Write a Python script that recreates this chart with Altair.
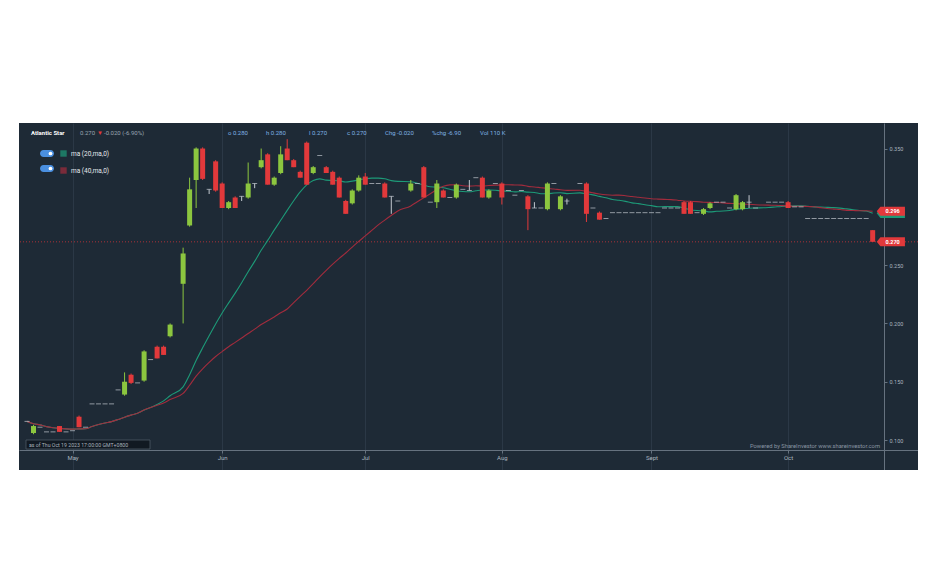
import altair as alt
import pandas as pd
import numpy as np

# ---------------- data ----------------
stock_name = "Atlantic Star"
dates = pd.bdate_range("2023-04-20", "2023-10-19")  # weekday trading calendar (131 days)

opens = [0.116, 0.106, 0.111, 0.107, 0.107, 0.112, 0.107, 0.108, 0.120, 0.111,
         0.131, 0.131, 0.131, 0.131, 0.143, 0.139, 0.156, 0.149, 0.151, 0.169,
         0.180, 0.180, 0.189, None, 0.234, 0.284, 0.323, 0.350, 0.315, 0.339,
         0.320, 0.299, 0.308, 0.309, 0.308, 0.320, 0.334, 0.345, 0.319, 0.329,
         0.350, 0.340, 0.330, 0.355, 0.329, 0.344, 0.334, 0.330, 0.325, 0.305,
         0.303, 0.314, 0.326, 0.320, 0.320, 0.320, 0.309, 0.305, None, 0.314,
         0.320, 0.334, 0.304, 0.304, 0.314, 0.308, 0.308, 0.315, 0.314, 0.325,
         0.325, 0.308, 0.320, 0.320, 0.314, 0.310, 0.314, 0.309, 0.299, 0.299,
         0.298, 0.320, 0.298, 0.305, None, 0.320, 0.320, 0.299, 0.295, 0.290,
         0.295, 0.295, 0.295, 0.295, 0.295, 0.295, 0.295, 0.295, 0.299, 0.299,
         0.299, 0.304, 0.304, 0.295, 0.294, 0.299, 0.304, 0.304, 0.299, 0.298,
         0.298, 0.304, 0.299, None, 0.304, 0.304, 0.304, 0.304, 0.300, 0.300,
         0.290, 0.290, 0.290, 0.290, 0.290, 0.290, 0.290, 0.290, 0.290, 0.290,
         0.280]
highs = [0.116, 0.113, 0.111, 0.107, 0.107, 0.112, 0.107, 0.108, 0.121, 0.111,
         0.131, 0.131, 0.131, 0.131, 0.143, 0.158, 0.157, 0.149, 0.177, 0.169,
         0.181, 0.181, 0.200, None, 0.265, 0.325, 0.351, 0.351, 0.315, 0.340,
         0.321, 0.305, 0.309, 0.309, 0.338, 0.320, 0.350, 0.346, 0.326, 0.352,
         0.358, 0.341, 0.331, 0.356, 0.335, 0.344, 0.335, 0.331, 0.326, 0.306,
         0.315, 0.327, 0.329, 0.320, 0.320, 0.321, 0.309, 0.305, None, 0.323,
         0.320, 0.335, 0.304, 0.323, 0.315, 0.308, 0.320, 0.315, 0.323, 0.325,
         0.326, 0.315, 0.320, 0.321, 0.314, 0.310, 0.314, 0.310, 0.304, 0.299,
         0.321, 0.320, 0.310, 0.307, None, 0.320, 0.321, 0.299, 0.296, 0.290,
         0.295, 0.295, 0.295, 0.295, 0.295, 0.295, 0.295, 0.295, 0.299, 0.299,
         0.299, 0.305, 0.305, 0.295, 0.299, 0.304, 0.304, 0.304, 0.299, 0.311,
         0.305, 0.310, 0.299, None, 0.304, 0.304, 0.304, 0.305, 0.300, 0.300,
         0.290, 0.290, 0.290, 0.290, 0.290, 0.290, 0.290, 0.290, 0.290, 0.290,
         0.280]
lows = [0.116, 0.105, 0.111, 0.107, 0.107, 0.107, 0.107, 0.108, 0.111, 0.111,
        0.131, 0.131, 0.131, 0.131, 0.143, 0.138, 0.148, 0.149, 0.150, 0.169,
        0.170, 0.173, 0.188, None, 0.200, 0.283, 0.299, 0.323, 0.311, 0.313,
        0.299, 0.298, 0.299, 0.305, 0.307, 0.316, 0.333, 0.319, 0.318, 0.328,
        0.340, 0.334, 0.325, 0.319, 0.328, 0.344, 0.329, 0.319, 0.308, 0.294,
        0.302, 0.313, 0.319, 0.320, 0.320, 0.308, 0.294, 0.305, None, 0.313,
        0.320, 0.308, 0.304, 0.299, 0.308, 0.308, 0.307, 0.315, 0.314, 0.325,
        0.308, 0.307, 0.320, 0.302, 0.314, 0.310, 0.314, 0.280, 0.299, 0.299,
        0.297, 0.320, 0.297, 0.302, None, 0.320, 0.287, 0.299, 0.289, 0.290,
        0.295, 0.295, 0.295, 0.295, 0.295, 0.295, 0.295, 0.295, 0.299, 0.299,
        0.299, 0.294, 0.294, 0.295, 0.293, 0.298, 0.304, 0.304, 0.299, 0.297,
        0.297, 0.299, 0.299, None, 0.304, 0.304, 0.304, 0.299, 0.300, 0.300,
        0.290, 0.290, 0.290, 0.290, 0.290, 0.290, 0.290, 0.290, 0.290, 0.290,
        0.270]
closes = [0.116, 0.112, 0.111, 0.107, 0.107, 0.107, 0.107, 0.108, 0.111, 0.111,
          0.131, 0.131, 0.131, 0.131, 0.143, 0.150, 0.149, 0.149, 0.176, 0.169,
          0.170, 0.173, 0.199, None, 0.260, 0.315, 0.350, 0.324, 0.315, 0.314,
          0.299, 0.304, 0.299, 0.309, 0.320, 0.320, 0.340, 0.319, 0.325, 0.345,
          0.340, 0.334, 0.325, 0.319, 0.334, 0.344, 0.329, 0.319, 0.308, 0.294,
          0.314, 0.325, 0.319, 0.320, 0.320, 0.308, 0.309, 0.305, None, 0.320,
          0.320, 0.308, 0.304, 0.320, 0.308, 0.308, 0.319, 0.315, 0.314, 0.325,
          0.308, 0.314, 0.320, 0.308, 0.314, 0.310, 0.314, 0.298, 0.299, 0.299,
          0.320, 0.320, 0.309, 0.305, None, 0.320, 0.294, 0.299, 0.289, 0.290,
          0.295, 0.295, 0.295, 0.295, 0.295, 0.295, 0.295, 0.295, 0.299, 0.299,
          0.299, 0.294, 0.294, 0.295, 0.298, 0.303, 0.304, 0.304, 0.299, 0.310,
          0.304, 0.304, 0.299, None, 0.304, 0.304, 0.304, 0.299, 0.300, 0.300,
          0.290, 0.290, 0.290, 0.290, 0.290, 0.290, 0.290, 0.290, 0.290, 0.290,
          0.270]

month_labels = ["May", "Jun", "Jul", "Aug", "Sept", "Oct"]
month_numbers = [5, 6, 7, 8, 9, 10]
y_ticks = [0.10, 0.15, 0.20, 0.25, 0.35]  # 0.300 is hidden under the price tag in the reference
ma_names = ["ma (20,ma,0)", "ma (40,ma,0)"]
ma_windows = [20, 40]
quote_texts = ["0.270", "\u25bc", "-0.020 (-6.90%)"]
ohlc_texts = ["o 0.280", "h 0.280", "l 0.270", "c 0.270", "Chg -0.020", "%chg -6.90", "Vol 110 K"]
asof_text = "as of Thu Oct 19 2023 17:00:00 GMT+0800"
credit_text = "Powered by ShareInvestor www.shareinvestor.com"

# ---------------- styles ----------------
BG = "#1e2a36"
UP = "#8cc63f"
DOWN = "#e2393b"
FLAT = "#c3c9d0"
MA_COLORS = ["#1d9a78", "#a22c3d"]
AXIS_C = "#66727f"
LABEL_C = "#a9b4bf"
FONT = "Roboto"

# ---------------- frames ----------------
def to_float(seq):
    return [np.nan if v is None else float(v) for v in seq]

df = pd.DataFrame({
    "date": dates.strftime("%Y-%m-%d"),
    "i": np.arange(len(dates)),
    "open": to_float(opens),
    "high": to_float(highs),
    "low": to_float(lows),
    "close": to_float(closes),
})
cdf = df.dropna().copy()
cdf["col"] = np.where(cdf["close"] > cdf["open"], UP,
                      np.where(cdf["close"] < cdf["open"], DOWN, FLAT))
bodies = cdf[cdf["close"] != cdf["open"]]
flats = cdf[cdf["close"] == cdf["open"]]

ma_frames = []
for name, w in zip(ma_names, ma_windows):
    m = cdf[["i"]].copy()
    m["v"] = cdf["close"].rolling(w, min_periods=1).mean().values
    m["series"] = name
    ma_frames.append(m)
madf = pd.concat(ma_frames)

last_i = int(cdf["i"].iloc[-1])
last_close = float(cdf["close"].iloc[-1])
ma_last = [float(f["v"].iloc[-1]) for f in ma_frames]
labdf = pd.DataFrame({
    "i": [last_i, last_i, last_i],
    "v": [ma_last[0], ma_last[1], last_close],
    "col": [MA_COLORS[0], DOWN, DOWN],
    "show": [False, True, True],
})
labdf["txt"] = labdf["v"].map(lambda v: f"{v:.3f}")

# month ticks = first trading day of each month
dts = pd.to_datetime(df["date"])
tick_vals = [int(df["i"][dts.dt.month == mn].min()) for mn in month_numbers]
label_expr = " : ".join(f"datum.value == {v} ? '{lab}'" for v, lab in zip(tick_vals, month_labels)) + " : ''"

# ---------------- scales / axes ----------------
xscale = alt.Scale(domain=[-0.46, 136.2], nice=False, zero=False)
yscale = alt.Scale(domain=[0.0743, 0.3719], nice=False, zero=False)
xaxis = alt.Axis(values=tick_vals, labelExpr=label_expr, title=None, orient="bottom", offset=-20,
                 grid=True, gridColor="#2b3846", gridWidth=1, domainColor=AXIS_C, tickColor=AXIS_C,
                 tickSize=3, labelColor=LABEL_C, labelFontSize=6, labelFont=FONT, labelPadding=1)
yaxis = alt.Axis(values=y_ticks, format=".3f", title=None, orient="right", offset=-34, grid=False,
                 domainColor=AXIS_C, tickColor=AXIS_C, tickSize=3, labelColor=LABEL_C,
                 labelFontSize=5.5, labelFont=FONT, labelPadding=2)
X = alt.X("i:Q", scale=xscale, axis=xaxis)

def Y(field):
    return alt.Y(field, scale=yscale, axis=yaxis)

# ---------------- layers ----------------
price_line = alt.Chart(pd.DataFrame({"v": [last_close]})).mark_rule(
    color="#b8323a", strokeDash=[1, 2], strokeWidth=1, opacity=0.9
).encode(y=Y("v:Q"))

ma_lines = alt.Chart(madf).mark_line(strokeWidth=1.1, interpolate="monotone").encode(
    x=X, y=Y("v:Q"),
    color=alt.Color("series:N", scale=alt.Scale(domain=ma_names, range=MA_COLORS),
                    legend=alt.Legend(orient="none", legendX=41, legendY=27, title=None,
                                      symbolType="square", symbolSize=9, symbolStrokeWidth=3.4,
                                      labelColor="#e4e8ec", labelFontSize=6.5, labelFont=FONT,
                                      rowPadding=0, labelOffset=4, labelLimit=100)),
)

wicks = alt.Chart(cdf).mark_rule(strokeWidth=1).encode(
    x=X, y=Y("low:Q"), y2="high:Q", color=alt.Color("col:N", scale=None))
body_bars = alt.Chart(bodies).mark_bar(size=5).encode(
    x=X, y=Y("open:Q"), y2="close:Q", color=alt.Color("col:N", scale=None))
flat_ticks = alt.Chart(flats).mark_tick(size=5, thickness=1, orient="horizontal").encode(
    x=X, y=Y("close:Q"), color=alt.Color("col:N", scale=None))

label_boxes = alt.Chart(labdf).mark_point(
    shape="M-1.3,0L-1,-0.37H1V0.37H-1Z", filled=True, opacity=1, size=600, xOffset=20
).encode(x=X, y=Y("v:Q"), color=alt.Color("col:N", scale=None))
label_texts = alt.Chart(labdf).transform_filter("datum.show").mark_text(
    color="white", fontSize=5.5, fontWeight="bold", font=FONT, dx=20
).encode(x=X, y=Y("v:Q"), text="txt:N")

# header
title_txt = alt.Chart(pd.DataFrame({"t": [stock_name]})).mark_text(
    align="left", baseline="middle", fontSize=6, font=FONT, fontWeight="bold", color="#ffffff").encode(
    x=alt.value(12), y=alt.value(10), text="t:N")
hdr_left = pd.DataFrame({"t": quote_texts, "px": [61, 78, 85],
                         "c": ["#9aa5b1", DOWN, "#9aa5b1"]})
hdr_left_txt = alt.Chart(hdr_left).mark_text(align="left", baseline="middle", fontSize=6, font=FONT).encode(
    x=alt.X("px:Q", scale=None), y=alt.value(10), text="t:N",
    color=alt.Color("c:N", scale=None))
hdr_right = pd.DataFrame({"t": ohlc_texts, "px": [209, 247, 290, 328, 366, 413, 461]})
hdr_right_txt = alt.Chart(hdr_right).mark_text(align="left", baseline="middle", fontSize=6, font=FONT,
                                               color="#7fb2e5").encode(
    x=alt.X("px:Q", scale=None), y=alt.value(10), text="t:N")

# legend toggle pills
pills = alt.Chart(pd.DataFrame({"s": ma_names, "py": [27, 42]})).transform_calculate(
    py2="datum.py + 7").mark_rect(color="#4a8fe0", cornerRadius=3.5).encode(
    x=alt.value(21), x2=alt.value(35), y=alt.Y("py:Q", scale=None), y2=alt.Y2("py2:Q"))
knobs = alt.Chart(pd.DataFrame({"s": ma_names, "py": [30.5, 45.5]})).mark_circle(
    color="white", size=14, opacity=1).encode(x=alt.value(31.5), y=alt.Y("py:Q", scale=None))

# footer
asof_box = alt.Chart(pd.DataFrame({"a": [1]})).mark_rect(
    fill="#111922", stroke="#4d5966", strokeWidth=0.8).encode(
    x=alt.value(7), x2=alt.value(131), y=alt.value(317), y2=alt.value(326))
asof_txt = alt.Chart(pd.DataFrame({"t": [asof_text]})).mark_text(
    align="left", baseline="middle", fontSize=5.2, font=FONT, color="#aab3bd").encode(
    x=alt.value(10), y=alt.value(321.5), text="t:N")
credit_txt = alt.Chart(pd.DataFrame({"t": [credit_text]})).mark_text(
    align="right", baseline="middle", fontSize=5.8, font=FONT, color="#8a96a3").encode(
    x=alt.value(861), y=alt.value(323), text="t:N")

chart = alt.layer(
    price_line, ma_lines, wicks, body_bars, flat_ticks, label_boxes, label_texts,
    title_txt, hdr_left_txt, hdr_right_txt, pills, knobs, asof_box, asof_txt, credit_txt
).properties(
    width=899, height=347,
    autosize=alt.AutoSizeParams(type="none"),
    padding={"left": 11, "top": 115, "right": 0, "bottom": 0},
    background="white",
).configure_view(fill=BG, stroke=None)

chart.save("out.html", embed_options={"renderer": "svg", "actions": False})
